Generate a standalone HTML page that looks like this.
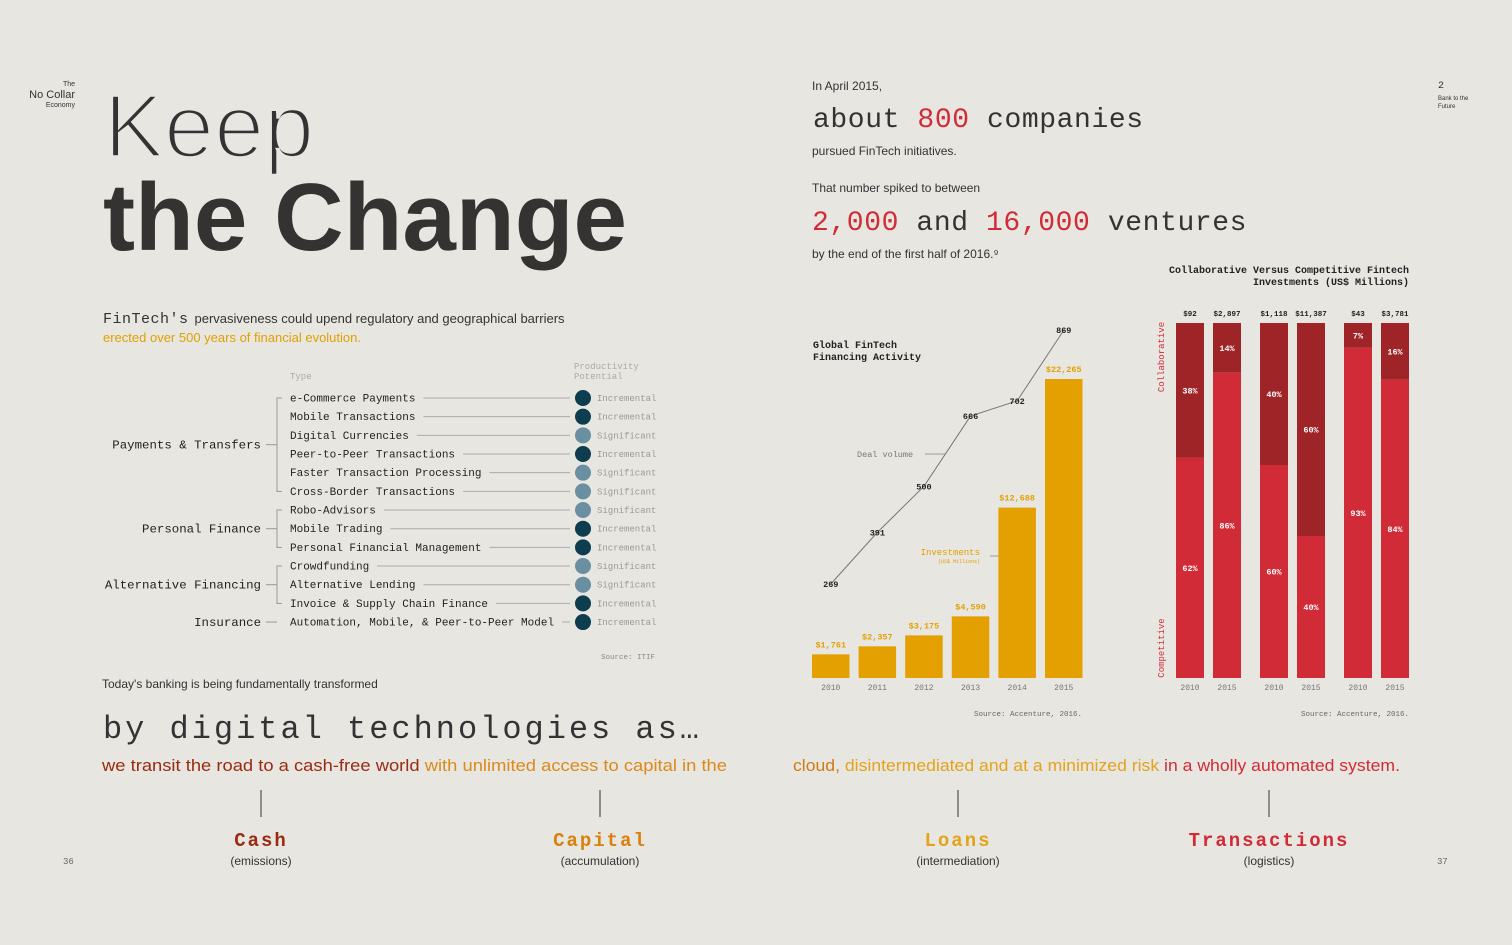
<!DOCTYPE html>
<html><head><meta charset="utf-8"><style>
body{margin:0;background:#e8e6e1;}
svg{display:block;}
.sans{font-family:"Liberation Sans",sans-serif;}
.mono{font-family:"Liberation Mono",monospace;}
</style></head><body>
<svg id="page" width="1512" height="945" viewBox="0 0 1512 945">
<rect width="1512" height="945" fill="#e8e6e1"/>
<g class="sans" fill="#333">
<text x="75" y="86" font-size="7" text-anchor="end">The</text>
<text x="75" y="98" font-size="11" text-anchor="end">No Collar</text>
<text x="75" y="107" font-size="7" text-anchor="end">Economy</text>
<text x="104" y="157" font-size="90" fill="#333" stroke="#e8e6e1" stroke-width="3.5">Keep</text>
<text x="103" y="250" font-size="96" font-weight="bold" fill="#343331" textLength="524" lengthAdjust="spacingAndGlyphs">the Change</text>
<text x="103" y="323"><tspan class="mono" font-size="15" letter-spacing="0.5">FinTech's</tspan><tspan font-size="13" dx="6">pervasiveness could upend regulatory and geographical barriers</tspan></text>
<text x="103" y="342" font-size="13" fill="#e0a100">erected over 500 years of financial evolution.</text>
</g>
<g id="table" class="mono">
<text x="290" y="379" font-size="9" fill="#aaa">Type</text>
<text x="574" y="369" font-size="9" fill="#aaa">Productivity</text>
<text x="574" y="379" font-size="9" fill="#aaa">Potential</text>
<text x="655" y="659" font-size="7.5" fill="#888" text-anchor="end">Source: ITIF</text>
</g>
<g id="mid" class="mono">
<text x="813" y="348" font-size="10" font-weight="bold" fill="#222">Global FinTech</text>
<text x="813" y="360" font-size="10" font-weight="bold" fill="#222">Financing Activity</text>
<text x="857" y="457" font-size="8.5" fill="#777">Deal volume</text>
<line x1="925" y1="454" x2="945" y2="454" stroke="#999" stroke-width="1"/>
<text x="980" y="555" font-size="9" fill="#e3a000" text-anchor="end">Investments</text>
<text x="980" y="563" font-size="5" fill="#e3a000" text-anchor="end">(US$ Millions)</text>
<line x1="990" y1="556" x2="1000" y2="556" stroke="#999" stroke-width="1"/>
<text x="1082" y="716" font-size="7.5" fill="#666" text-anchor="end">Source: Accenture, 2016.</text>
</g>
<g id="right" class="mono">
<text x="1409" y="273" font-size="10" font-weight="bold" fill="#222" text-anchor="end">Collaborative Versus Competitive Fintech</text>
<text x="1409" y="285" font-size="10" font-weight="bold" fill="#222" text-anchor="end">Investments (US$ Millions)</text>
<text transform="translate(1164,357) rotate(-90)" font-size="9" fill="#d22b38" text-anchor="middle">Collaborative</text>
<text transform="translate(1164,648) rotate(-90)" font-size="9" fill="#d22b38" text-anchor="middle">Competitive</text>
<text x="1409" y="716" font-size="7.5" fill="#666" text-anchor="end">Source: Accenture, 2016.</text>
</g>
<g class="sans" fill="#333">
<text x="812" y="90" font-size="12">In April 2015,</text>
<text x="813" y="127" class="mono" font-size="28" letter-spacing="0.6">about <tspan fill="#d22b38">800</tspan> companies</text>
<text x="812" y="155" font-size="12">pursued FinTech initiatives.</text>
<text x="812" y="192" font-size="12">That number spiked to between</text>
<text x="812" y="230" class="mono" font-size="28" letter-spacing="0.6"><tspan fill="#d22b38">2,000</tspan> and <tspan fill="#d22b38">16,000</tspan> ventures</text>
<text x="812" y="258" font-size="12">by the end of the first half of 2016.⁹</text>
<text x="1438" y="88" class="mono" font-size="10">2</text>
<text x="1438" y="100" font-size="6">Bank to the</text>
<text x="1438" y="108" font-size="6">Future</text>
<text x="63" y="864" class="mono" font-size="9" fill="#666">36</text>
<text x="1437" y="864" class="mono" font-size="9" fill="#666">37</text>
</g>
<g>
<text x="102" y="688" class="sans" font-size="12" fill="#333">Today's banking is being fundamentally transformed</text>
<text x="103" y="738" class="mono" font-size="32" fill="#333" textLength="596" lengthAdjust="spacing">by digital technologies as…</text>
<text x="102" y="771" class="sans" font-size="17" textLength="625" lengthAdjust="spacingAndGlyphs"><tspan fill="#9a2b12">we transit the road to a cash-free world </tspan><tspan fill="#db8a1a">with unlimited access to capital in the</tspan></text>
<text x="793" y="771" class="sans" font-size="17" textLength="607" lengthAdjust="spacingAndGlyphs"><tspan fill="#d27a14">cloud, </tspan><tspan fill="#e3a31a">disintermediated and at a minimized risk </tspan><tspan fill="#d32b36">in a wholly automated system.</tspan></text>
<g id="words"></g>
</g>
</svg>
<script>
const NS='http://www.w3.org/2000/svg';
function mk(parent,tag,attrs,txt){const e=document.createElementNS(NS,tag);for(const k in attrs)e.setAttribute(k,attrs[k]);if(txt!==undefined)e.textContent=txt;parent.appendChild(e);return e;}

// ---- table data ----
const typeNames=['e-Commerce Payments','Mobile Transactions','Digital Currencies','Peer-to-Peer Transactions','Faster Transaction Processing','Cross-Border Transactions','Robo-Advisors','Mobile Trading','Personal Financial Management','Crowdfunding','Alternative Lending','Invoice & Supply Chain Finance','Automation, Mobile, & Peer-to-Peer Model'];
const potentials=['Incremental','Incremental','Significant','Incremental','Significant','Significant','Significant','Incremental','Incremental','Significant','Significant','Incremental','Incremental'];
const groupNames=['Payments & Transfers','Personal Finance','Alternative Financing','Insurance'];
const groupStart=[0,6,9,12];
const groupEnd=[5,8,11,12];

// ---- middle chart data ----
const years=['2010','2011','2012','2013','2014','2015'];
const investments=[1761,2357,3175,4590,12688,22265];
const investLabels=['$1,761','$2,357','$3,175','$4,590','$12,688','$22,265'];
const dealVolume=[269,391,500,666,702,869];

// ---- right chart data ----
const rYears=['2010','2015','2010','2015','2010','2015'];
const totals=['$92','$2,897','$1,118','$11,387','$43','$3,781'];
const collabPct=[38,14,40,60,7,16];

const tbl=document.getElementById('table');
const rowY=i=>398+i*18.67;
typeNames.forEach((n,i)=>{
  const y=rowY(i);
  const t=mk(tbl,'text',{x:290,y:y+3.5,'font-size':11,fill:'#222'},n);
  
  
  const w=n.length*6.6;
  const l=mk(tbl,'line',{x1:290+w+8,y1:y,x2:570,y2:y,stroke:'#aaa','stroke-width':1});
  
  
  const sig=potentials[i]==='Significant';
  const c=mk(tbl,'circle',{cx:583,cy:y,r:8,fill:sig?'#6a8fa0':'#0d3d4f'});
  
  
  const p=mk(tbl,'text',{x:597,y:y+3,'font-size':9,fill:'#999'},potentials[i]);
  
  
});
groupNames.forEach((g,k)=>{
  const y0=rowY(groupStart[k]),y1=rowY(groupEnd[k]),yc=(y0+y1)/2;
  const t=mk(tbl,'text',{x:261,y:yc+4,'font-size':12.4,fill:'#222','text-anchor':'end'},g);
  
  
  mk(tbl,'line',{x1:266,y1:yc,x2:277,y2:yc,stroke:'#999','stroke-width':1});
  if(y1>y0){
    mk(tbl,'path',{d:`M282 ${y0} H277 V${y1} H282`,fill:'none',stroke:'#999','stroke-width':1});
  }
});

const mid=document.getElementById('mid');
const bx=i=>812+i*46.6, bw=37.5;
const yInv=v=>678-v*299/22265;
const yDeal=v=>697.8-v*0.423;
investments.forEach((v,i)=>{
  const r=mk(mid,'rect',{x:bx(i),y:yInv(v),width:bw,height:678-yInv(v),fill:'#e3a000'});
  
  
  const t=mk(mid,'text',{x:bx(i)+bw/2,y:yInv(v)-7,'font-size':8.5,'font-weight':'bold',fill:'#e3a000','text-anchor':'middle'},investLabels[i]);
  
  
  const yl=mk(mid,'text',{x:bx(i)+bw/2,y:690,'font-size':8,fill:'#777','text-anchor':'middle'},years[i]);
  
  
});
const pts=dealVolume.map((v,i)=>[bx(i)+bw/2,yDeal(v)]);
const pl=mk(mid,'polyline',{points:pts.map(p=>p.join(',')).join(' '),fill:'none',stroke:'#777','stroke-width':1});


dealVolume.forEach((v,i)=>{
  const t=mk(mid,'text',{x:pts[i][0],y:pts[i][1]+3,'font-size':8.5,'font-weight':'bold',fill:'#222','text-anchor':'middle'},String(v));
  
  
});

const right=document.getElementById('right');
const rx=[1176,1213,1260,1297,1344,1381], rw=28, rTop=323, rBot=678;
const yPct=p=>rTop+(rBot-rTop)*p/100;
collabPct.forEach((p,i)=>{
  const a=mk(right,'rect',{x:rx[i],y:rTop,width:rw,height:yPct(p)-rTop,fill:'#9e2428'});
  
  
  const b=mk(right,'rect',{x:rx[i],y:yPct(p),width:rw,height:rBot-yPct(p),fill:'#d22b38'});
  
  
  const ct=mk(right,'text',{x:rx[i]+rw/2,y:(rTop+yPct(p))/2+3,'font-size':8.5,'font-weight':'bold',fill:'#fff','text-anchor':'middle'},p+'%');
  
  
  const pt=mk(right,'text',{x:rx[i]+rw/2,y:(yPct(p)+rBot)/2+3,'font-size':8.5,'font-weight':'bold',fill:'#fff','text-anchor':'middle'},(100-p)+'%');
  
  
  const tv=mk(right,'text',{x:rx[i]+rw/2,y:316,'font-size':7.5,'font-weight':'bold',fill:'#222','text-anchor':'middle'},totals[i]);
  
  
  const yl=mk(right,'text',{x:rx[i]+rw/2,y:690,'font-size':8,fill:'#777','text-anchor':'middle'},rYears[i]);
  
  
});

// ---- bottom keywords ----
const words=['Cash','Capital','Loans','Transactions'];
const subs=['(emissions)','(accumulation)','(intermediation)','(logistics)'];
const wColors=['#9a2b12','#d9800d','#e3a31a','#d32b36'];
const wx=[261,600,958,1269];
const wg=document.getElementById('words');
words.forEach((w,i)=>{
  mk(wg,'line',{x1:wx[i],y1:790,x2:wx[i],y2:817,stroke:'#333','stroke-width':1});
  const t=mk(wg,'text',{x:wx[i],y:846,'font-size':19,'font-weight':'bold','letter-spacing':2,fill:wColors[i],'text-anchor':'middle','font-family':'Liberation Mono, monospace'},w);
  
  
  const s=mk(wg,'text',{x:wx[i],y:865,'font-size':12,fill:'#333','text-anchor':'middle','font-family':'Liberation Sans, sans-serif'},subs[i]);
  
  
});
</script>
</body></html>
